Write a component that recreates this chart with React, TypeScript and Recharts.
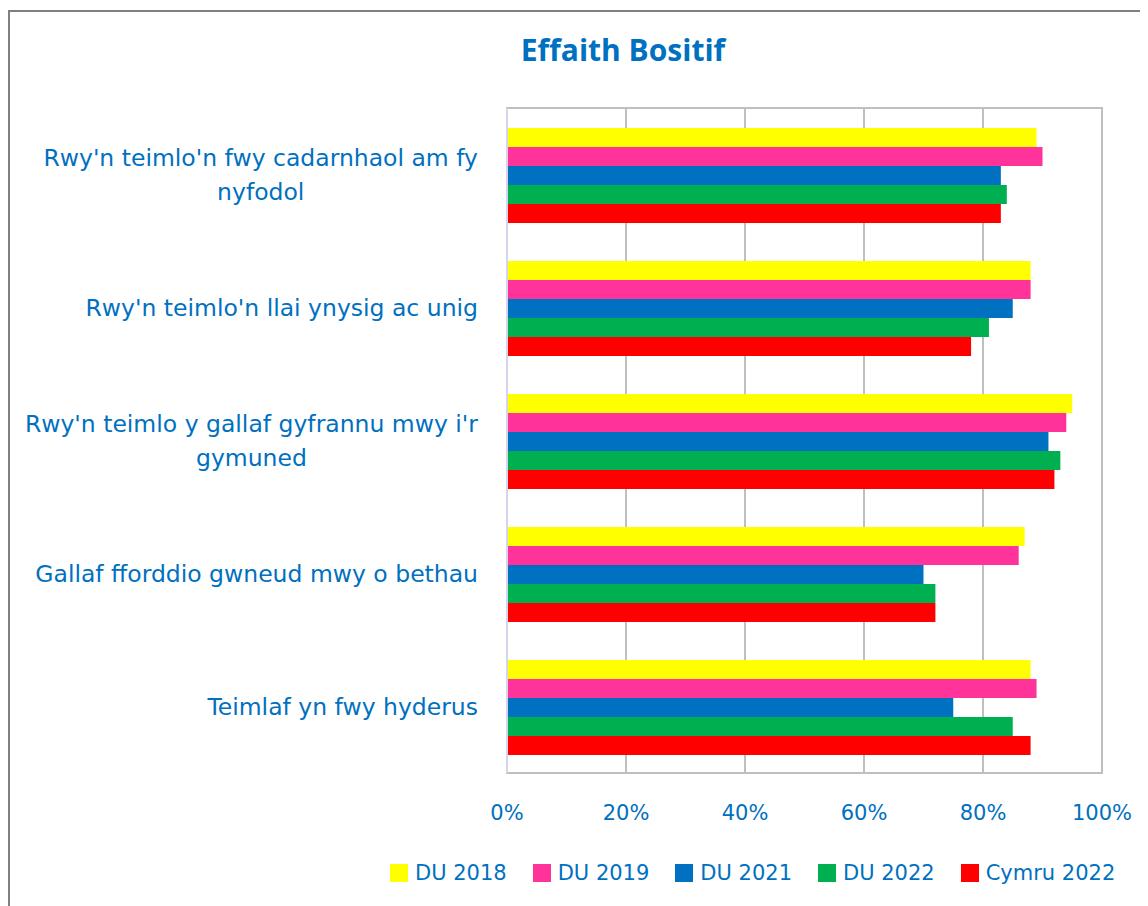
import React from 'react';
import { BarChart, Bar, XAxis, YAxis, CartesianGrid, Legend, ReferenceArea, ReferenceLine } from 'recharts';

const categories = [
  "Rwy'n teimlo'n fwy cadarnhaol am fy\nnyfodol",
  "Rwy'n teimlo'n llai ynysig ac unig",
  "Rwy'n teimlo y gallaf gyfrannu mwy i'r\ngymuned",
  'Gallaf fforddio gwneud mwy o bethau',
  'Teimlaf yn fwy hyderus',
];
const du2018 = [89, 88, 95, 87, 88];
const du2019 = [90, 88, 94, 86, 89];
const du2021 = [83, 85, 91, 70, 75];
const du2022 = [84, 81, 93, 72, 85];
const cymru2022 = [83, 78, 92, 72, 88];
const xTicks = [0, 20, 40, 60, 80, 100];
const seriesNames = ['DU 2018', 'DU 2019', 'DU 2021', 'DU 2022', 'Cymru 2022'];
const seriesColors = ['#FFFF00', '#FF3399', '#0070C0', '#00B050', '#FF0000'];
const seriesKeys = ['du2018', 'du2019', 'du2021', 'du2022', 'cymru2022'];
const seriesValues = [du2018, du2019, du2021, du2022, cymru2022];

const data = categories.map((c, i) => {
  const row: Record<string, any> = { name: c };
  seriesKeys.forEach((k, j) => (row[k] = seriesValues[j][i]));
  return row;
});

const BLUE = '#0070C0';
const FONT_FAMILY = '"DejaVu Sans", sans-serif';
const FONT_SIZE = 21;
const LABEL_SIZE = 23.5;

let ctx: CanvasRenderingContext2D | null = null;
function measure(s: string): number {
  if (!ctx) ctx = document.createElement('canvas').getContext('2d');
  if (!ctx) return s.length * 13;
  ctx.font = `${LABEL_SIZE}px "DejaVu Sans"`;
  return ctx.measureText(s).width;
}

const YTick = (props: any) => {
  const { x, y, payload } = props;
  const lines = String(payload.value).split('\n');
  const lh = 34;
  const style = { fontFamily: FONT_FAMILY, fontSize: LABEL_SIZE, fill: BLUE };
  if (lines.length === 1) {
    return (
      <text x={x} y={y} dy="0.35em" textAnchor="end" style={style}>
        {lines[0]}
      </text>
    );
  }
  const maxW = Math.max(...lines.map(measure));
  const cx = x - maxW / 2;
  const y0 = y - ((lines.length - 1) * lh) / 2;
  return (
    <text textAnchor="middle" style={style}>
      {lines.map((l, i) => (
        <tspan key={i} x={cx} y={y0 + i * lh} dy="0.35em">
          {l}
        </tspan>
      ))}
    </text>
  );
};

const LegendContent = () => (
  <div style={{ display: 'flex', alignItems: 'center', height: 40, fontFamily: FONT_FAMILY, fontSize: FONT_SIZE, color: BLUE, whiteSpace: 'nowrap' }}>
    {seriesNames.map((n, i) => (
      <div key={n} style={{ display: 'flex', alignItems: 'center', marginRight: i < seriesNames.length - 1 ? 26 : 0 }}>
        <span style={{ display: 'inline-block', width: 18, height: 18, background: seriesColors[i], marginRight: 7 }} />
        <span>{n}</span>
      </div>
    ))}
  </div>
);

export default function App() {
  return (
    <div style={{ position: 'relative', marginTop: 2, borderLeft: '2px solid #808080', borderTop: '2px solid #808080', width: 1138, height: 894 }}>
      <div style={{ position: 'absolute', left: 413, width: 400, top: 18, textAlign: 'center', fontFamily: '"Open Sans", sans-serif', fontWeight: 700, fontSize: 30, lineHeight: '40px', color: BLUE }}>
        Effaith Bositif
      </div>
      <BarChart
        width={1138}
        height={894}
        data={data}
        layout="vertical"
        margin={{ top: 96, right: 46, bottom: 13, left: 0 }}
        barCategoryGap={20}
        barGap={0}
      >
        <CartesianGrid horizontal={false} stroke="#BFBFBF" strokeWidth={2} />
        <ReferenceArea x1={0} x2={100} fill="none" stroke="#BFBFBF" strokeWidth={2} ifOverflow="visible" />
        <ReferenceLine x={0} stroke="#D4D4EC" strokeWidth={2} ifOverflow="visible" />
        <XAxis
          type="number"
          domain={[0, 100]}
          ticks={xTicks}
          tickFormatter={(v: number) => `${v}%`}
          axisLine={{ stroke: '#BFBFBF', strokeWidth: 2 }}
          tickLine={false}
          tickSize={0}
          tickMargin={32}
          height={80}
          tick={{ fill: BLUE, fontSize: FONT_SIZE, fontFamily: FONT_FAMILY }}
          interval={0}
        />
        <YAxis
          type="category"
          dataKey="name"
          width={497}
          axisLine={{ stroke: '#D4D4EC', strokeWidth: 2 }}
          tickLine={false}
          tickSize={0}
          tickMargin={29}
          tick={<YTick />}
          interval={0}
        />
        <Legend verticalAlign="bottom" content={<LegendContent />} wrapperStyle={{ left: 380, bottom: 13, width: 'auto' }} />
        {seriesKeys.map((k, i) => (
          <Bar key={k} dataKey={k} name={seriesNames[i]} fill={seriesColors[i]} isAnimationActive={false} />
        ))}
      </BarChart>
    </div>
  );
}
